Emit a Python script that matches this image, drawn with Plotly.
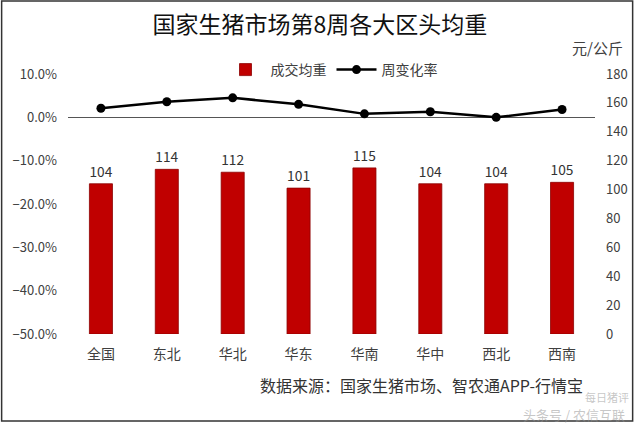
import plotly.graph_objects as go

categories = ["全国", "东北", "华北", "华东", "华南", "华中", "西北", "西南"]
avg_weight = [104, 114, 112, 101, 115, 104, 104, 105]
weekly_change = [0.021, 0.036, 0.045, 0.030, 0.008, 0.013, 0.000, 0.018]

FONT = "Noto Sans CJK SC"
W, H = 640, 423
L, R, T, B = 68, 40, 74, 89
pw, ph = W - L - R, H - T - B

def px(x):
    return (x - L) / pw

def py(y):
    return (H - B - y) / ph

fig = go.Figure()
fig.add_trace(go.Bar(
    x=categories, y=avg_weight, name="成交均重", yaxis="y2",
    marker=dict(color="#C00000", line=dict(color="#8B0000", width=0.8)),
    text=[str(v) for v in avg_weight], textposition="outside",
    textfont=dict(size=14, color="#333333", family=FONT),
    cliponaxis=False,
))
fig.add_trace(go.Scatter(
    x=categories, y=weekly_change, name="周变化率", yaxis="y",
    mode="lines+markers",
    line=dict(color="black", width=2.5),
    marker=dict(color="black", size=9),
))

fig.update_layout(
    width=W, height=H,
    margin=dict(l=L, r=R, t=T, b=B),
    paper_bgcolor="white", plot_bgcolor="white",
    font=dict(family=FONT, size=13, color="#404040"),
    showlegend=True,
    legend=dict(orientation="h", x=0.5, xanchor="center", y=py(70), yanchor="middle",
                font=dict(size=14, color="#404040"), traceorder="normal",
                itemwidth=40, bgcolor="rgba(0,0,0,0)"),
    bargap=0.65,
    xaxis=dict(showgrid=False, showline=False, ticks="", ticklabelstandoff=10,
               tickfont=dict(size=14, color="#404040")),
    yaxis=dict(range=[-0.5, 0.1], dtick=0.1, tickformat=".1%", showgrid=False,
               zeroline=True, zerolinecolor="#555555", zerolinewidth=1,
               showline=False, ticks="", ticklabelstandoff=10,
               tickfont=dict(size=13, color="#404040")),
    yaxis2=dict(range=[0, 180], dtick=20, overlaying="y", side="right", showgrid=False,
                zeroline=False, showline=False, ticks="", ticklabelstandoff=10,
                tickfont=dict(size=13, color="#404040")),
    title=dict(text="国家生猪市场第8周各大区头均重", x=0.5, xanchor="center",
               y=1 - 25 / H, yanchor="middle",
               font=dict(size=23, color="#111111", family=FONT)),
)

fig.add_annotation(text="元/公斤", xref="paper", yref="paper", x=px(630), y=py(48),
                   xanchor="right", yanchor="middle", showarrow=False,
                   font=dict(size=15, color="#404040"))
fig.add_annotation(text="数据来源：国家生猪市场、智农通APP-行情宝", xref="paper", yref="paper",
                   x=px(590), y=py(385), xanchor="right", yanchor="middle", showarrow=False,
                   font=dict(size=16, color="#333333"))
fig.add_annotation(text="每日猪评", xref="paper", yref="paper",
                   x=px(636), y=py(397), xanchor="right", yanchor="middle", showarrow=False,
                   font=dict(size=11, color="rgba(150,150,150,0.55)"))
fig.add_annotation(text="头条号 / 农信互联", xref="paper", yref="paper",
                   x=px(632), y=py(414), xanchor="right", yanchor="middle", showarrow=False,
                   font=dict(size=13, color="rgba(150,150,150,0.55)"))
fig.add_shape(type="rect", xref="paper", yref="paper",
              x0=px(1), x1=px(638), y0=py(421), y1=py(1),
              line=dict(color="#333333", width=1.5), fillcolor="rgba(0,0,0,0)", layer="above")

fig.write_html("out.html")
